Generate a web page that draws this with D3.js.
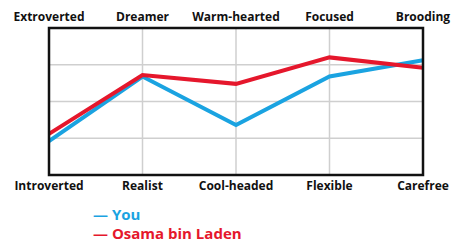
<!DOCTYPE html>
<html>
<head>
<meta charset="utf-8">
<script src="https://cdn.jsdelivr.net/npm/d3@7"></script>
<style>
  body { margin: 0; background: #fff; }
  text { font-family: "Open Sans", sans-serif; font-weight: 700; }
</style>
</head>
<body>
<div id="container"></div>
<script>
/* CONSTANTS AND GLOBALS */
const width = 474,
  height = 247,
  margin = { top: 28, bottom: 72, left: 49, right: 51 }

/* DATA */
const topLabels = ['Extroverted', 'Dreamer', 'Warm-hearted', 'Focused', 'Brooding']
const bottomLabels = ['Introverted', 'Realist', 'Cool-headed', 'Flexible', 'Carefree']
const youValues = [23, 67, 34, 67, 78]
const osamaValues = [28, 68, 62, 80, 73]
const seriesNames = ['You', 'Osama bin Laden']
const gridTicks = [25, 50, 75]

const colors = ['#1aa3e1', '#e5172c']

/* SCALES */
const xScale = d3.scalePoint()
  .domain(d3.range(topLabels.length))
  .range([margin.left, width - margin.right])

const yScale = d3.scaleLinear()
  .domain([0, 100])
  .range([height - margin.bottom, margin.top])

/* DRAW */
const svg = d3.select('#container')
  .append('svg')
  .attr('width', width)
  .attr('height', height)

// grid lines
svg.append('g')
  .selectAll('line.v')
  .data(d3.range(1, topLabels.length - 1))
  .join('line')
  .attr('x1', d => xScale(d))
  .attr('x2', d => xScale(d))
  .attr('y1', yScale(100))
  .attr('y2', yScale(0))
  .attr('stroke', '#cfcfcf')
  .attr('stroke-width', 1.5)

svg.append('g')
  .selectAll('line.h')
  .data(gridTicks)
  .join('line')
  .attr('x1', xScale(0))
  .attr('x2', xScale(topLabels.length - 1))
  .attr('y1', d => yScale(d))
  .attr('y2', d => yScale(d))
  .attr('stroke', '#cfcfcf')
  .attr('stroke-width', 1.5)

// series lines
const line = d3.line()
  .x((d, i) => xScale(i))
  .y(d => yScale(d))

svg.selectAll('path.series')
  .data([youValues, osamaValues])
  .join('path')
  .attr('class', 'series')
  .attr('d', d => line(d))
  .attr('fill', 'none')
  .attr('stroke', (d, i) => colors[i])
  .attr('stroke-width', 4)
  .attr('stroke-linejoin', 'miter')

// frame
svg.append('rect')
  .attr('x', xScale(0))
  .attr('y', yScale(100))
  .attr('width', xScale(topLabels.length - 1) - xScale(0))
  .attr('height', yScale(0) - yScale(100))
  .attr('fill', 'none')
  .attr('stroke', '#111')
  .attr('stroke-width', 2.5)

// axis labels
svg.selectAll('text.top')
  .data(topLabels)
  .join('text')
  .attr('class', 'top')
  .attr('x', (d, i) => xScale(i))
  .attr('y', 21)
  .attr('text-anchor', 'middle')
  .attr('font-size', 12)
  .attr('fill', '#111')
  .text(d => d)

svg.selectAll('text.bottom')
  .data(bottomLabels)
  .join('text')
  .attr('class', 'bottom')
  .attr('x', (d, i) => xScale(i))
  .attr('y', 190)
  .attr('text-anchor', 'middle')
  .attr('font-size', 12)
  .attr('fill', '#111')
  .text(d => d)

// legend
svg.selectAll('text.legend')
  .data(seriesNames)
  .join('text')
  .attr('class', 'legend')
  .attr('x', 93)
  .attr('y', (d, i) => 220 + i * 19)
  .attr('font-size', 15)
  .attr('fill', (d, i) => colors[i])
  .text(d => '\u2014 ' + d)
</script>
</body>
</html>
